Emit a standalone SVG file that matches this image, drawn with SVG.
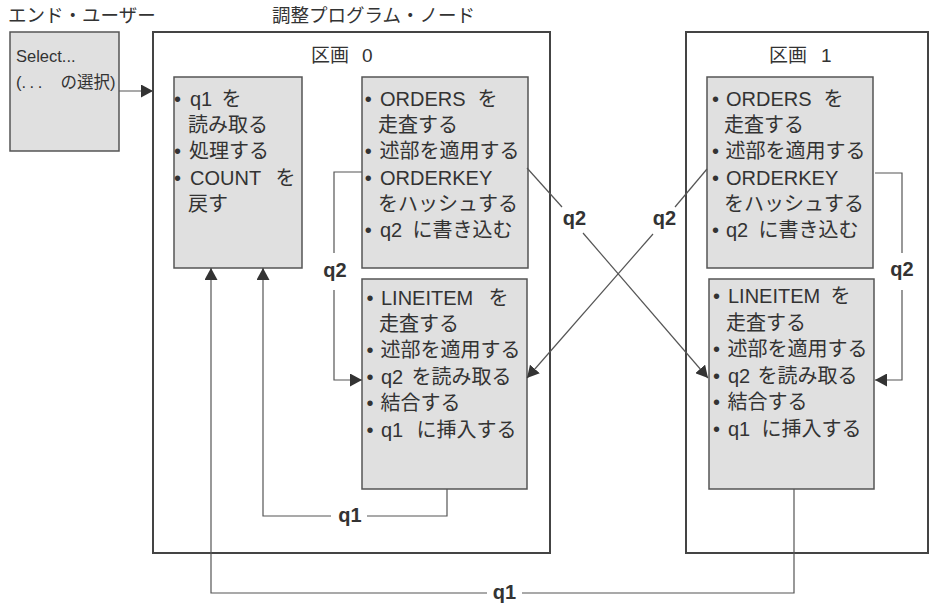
<svg xmlns="http://www.w3.org/2000/svg" width="930" height="605" viewBox="0 0 930 605">
<defs>
<style>
text{font-family:"Liberation Sans","Noto Sans CJK JP",sans-serif;fill:#333;}
.hd{font-size:18.5px;}
.tt{font-size:19px;}
.bx{font-size:20px;}
.b{text-anchor:middle;}
.lb{font-size:20px;font-weight:bold;text-anchor:middle;}
.sel{font-size:16.5px;}
.part{fill:none;stroke:#444;stroke-width:2;}
.node{fill:#e0e0e0;stroke:#555;stroke-width:1.5;}
.con{fill:none;stroke:#555;stroke-width:1.2;}
</style>
<marker id="ah" markerUnits="userSpaceOnUse" markerWidth="13" markerHeight="13" refX="12" refY="6.5" orient="auto" viewBox="0 0 13 13">
<path d="M0,0 L12,6.5 L0,13 z" fill="#333"/>
</marker>
</defs>
<rect width="930" height="605" fill="#fff"/>

<g id="headers">
<text class="hd" x="8" y="21.5">エンド・ユーザー</text>
<text class="hd" x="272" y="21.5">調整プログラム・ノード</text>
</g>

<g id="partition0">
<rect class="part" x="153" y="32" width="397" height="521"/>
<text class="tt" y="62"><tspan x="311">区画 </tspan><tspan x="362">0</tspan></text>
</g>
<g id="partition1">
<rect class="part" x="686" y="32" width="242" height="521"/>
<text class="tt" y="62"><tspan x="769">区画 </tspan><tspan x="821">1</tspan></text>
</g>

<g id="enduser">
<rect class="node" x="10" y="32" width="109" height="119"/>
<text class="sel" x="16" y="62">Select...</text>
<text class="sel" y="88"><tspan x="16">(</tspan><tspan letter-spacing="3.5">...</tspan><tspan x="56"> の選択)</tspan></text>
</g>

<g id="coordinator">
<rect class="node" x="174" y="77" width="128" height="191"/>
<text class="bx" y="106"><tspan class="b" x="180.3">• </tspan><tspan x="190">q1 </tspan><tspan x="221.5">を</tspan></text>
<text class="bx" x="188" y="132">読み取る</text>
<text class="bx" y="158"><tspan class="b" x="180.3">• </tspan><tspan x="189">処理する</tspan></text>
<text class="bx" y="185"><tspan class="b" x="180.3">• </tspan><tspan x="190">COUNT </tspan><tspan x="275.5">を</tspan></text>
<text class="bx" x="188" y="211">戻す</text>
</g>

<g id="orders0">
<rect class="node" x="362" y="77" width="166" height="191"/>
<text class="bx" y="106"><tspan class="b" x="371">• </tspan><tspan x="380">ORDERS </tspan><tspan x="477.5">を</tspan></text>
<text class="bx" x="378" y="132">走査する</text>
<text class="bx" y="158"><tspan class="b" x="371">• </tspan><tspan x="379.5">述部を適用する</tspan></text>
<text class="bx" y="185"><tspan class="b" x="371">• </tspan><tspan x="380">ORDERKEY</tspan></text>
<text class="bx" x="378" y="211">をハッシュする</text>
<text class="bx" y="237"><tspan class="b" x="371">• </tspan><tspan x="380">q2 </tspan><tspan x="412.5">に書き込む</tspan></text>
</g>

<g id="lineitem0">
<rect class="node" x="362" y="279" width="165" height="210"/>
<text class="bx" y="305"><tspan class="b" x="372.7">• </tspan><tspan x="381">LINEITEM </tspan><tspan x="488.5">を</tspan></text>
<text class="bx" x="379" y="331">走査する</text>
<text class="bx" y="357"><tspan class="b" x="372.7">• </tspan><tspan x="380.5">述部を適用する</tspan></text>
<text class="bx" y="384"><tspan class="b" x="372.7">• </tspan><tspan x="381">q2 </tspan><tspan x="411.5">を読み取る</tspan></text>
<text class="bx" y="410"><tspan class="b" x="372.7">• </tspan><tspan x="380.5">結合する</tspan></text>
<text class="bx" y="437"><tspan class="b" x="372.7">• </tspan><tspan x="381">q1 </tspan><tspan x="416.5">に挿入する</tspan></text>
</g>

<g id="orders1">
<rect class="node" x="707" y="77" width="166" height="191"/>
<text class="bx" y="106"><tspan class="b" x="718.3">• </tspan><tspan x="726">ORDERS </tspan><tspan x="823.5">を</tspan></text>
<text class="bx" x="724" y="132">走査する</text>
<text class="bx" y="158"><tspan class="b" x="718.3">• </tspan><tspan x="725.5">述部を適用する</tspan></text>
<text class="bx" y="185"><tspan class="b" x="718.3">• </tspan><tspan x="726">ORDERKEY</tspan></text>
<text class="bx" x="724" y="211">をハッシュする</text>
<text class="bx" y="237"><tspan class="b" x="718.3">• </tspan><tspan x="726">q2 </tspan><tspan x="758.5">に書き込む</tspan></text>
</g>

<g id="lineitem1">
<rect class="node" x="709" y="279" width="165" height="210"/>
<text class="bx" y="303"><tspan class="b" x="719.3">• </tspan><tspan x="728">LINEITEM </tspan><tspan x="830.5">を</tspan></text>
<text class="bx" x="726" y="329.5">走査する</text>
<text class="bx" y="355.5"><tspan class="b" x="719.3">• </tspan><tspan x="727.5">述部を適用する</tspan></text>
<text class="bx" y="382.5"><tspan class="b" x="719.3">• </tspan><tspan x="728">q2 </tspan><tspan x="757.5">を読み取る</tspan></text>
<text class="bx" y="409"><tspan class="b" x="719.3">• </tspan><tspan x="727.5">結合する</tspan></text>
<text class="bx" y="435.5"><tspan class="b" x="719.3">• </tspan><tspan x="728">q1 </tspan><tspan x="761.5">に挿入する</tspan></text>
</g>

<g id="connectors">
<path class="con" d="M119,91 H153" marker-end="url(#ah)"/>
<path class="con" d="M447,489 V516 H367"/>
<path class="con" d="M331,516 H263 V268" marker-end="url(#ah)"/>
<text class="lb" x="350" y="522">q1</text>
<path class="con" d="M794,489 V593 H522"/>
<path class="con" d="M487,593 H211 V268" marker-end="url(#ah)"/>
<text class="lb" x="504.5" y="599">q1</text>
<path class="con" d="M362,172 H334 V253"/>
<path class="con" d="M334,290 V380 H362" marker-end="url(#ah)"/>
<text class="lb" x="335" y="277">q2</text>
<path class="con" d="M875,173 H902 V253"/>
<path class="con" d="M902,290 V380 H875" marker-end="url(#ah)"/>
<text class="lb" x="902" y="276">q2</text>
<path class="con" d="M527,168 L562,207"/>
<path class="con" d="M583,233 L708,378" marker-end="url(#ah)"/>
<text class="lb" x="574.5" y="225">q2</text>
<path class="con" d="M707,169 L675,207"/>
<path class="con" d="M653,234 L527,378" marker-end="url(#ah)"/>
<text class="lb" x="664.5" y="225">q2</text>
</g>
</svg>
